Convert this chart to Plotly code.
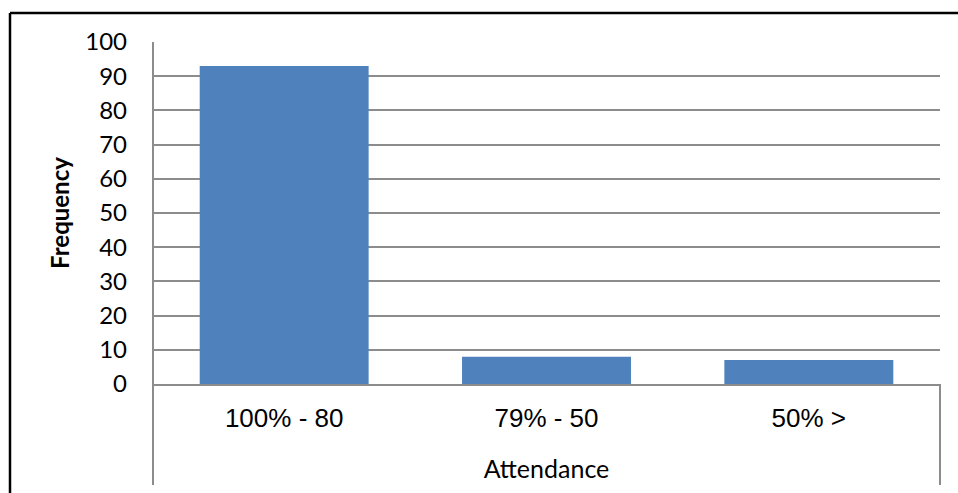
import plotly.graph_objects as go

# Attendance bands and how many fall in each
categories = ["100% - 80", "79% - 50", "50% >"]
frequency = [93, 8, 7]
y_ticks = [0, 10, 20, 30, 40, 50, 60, 70, 80, 90, 100]

W, H = 958, 493
L, R, T, B = 153, 18, 42, 109
plot_w = W - L - R
plot_h = H - T - B


def px_x(px):
    return (px - L) / plot_w


def px_y(py):
    return (H - B - py) / plot_h


GRID = "#8c8c8c"
BAR = "#4f81bd"

fig = go.Figure(
    go.Bar(
        x=categories,
        y=frequency,
        marker=dict(color=BAR, line=dict(width=0)),
        hoverinfo="x+y",
    )
)

shapes = [
    # category axis end dividers that run down past the labels
    dict(type="line", xref="paper", yref="paper", x0=0, x1=0, y0=1, y1=px_y(485),
         line=dict(color=GRID, width=2)),
    dict(type="line", xref="paper", yref="paper", x0=1, x1=1, y0=0, y1=px_y(485),
         line=dict(color=GRID, width=2)),
    # outer frame (top and left edges)
    dict(type="line", xref="paper", yref="paper", x0=px_x(10), x1=px_x(970),
         y0=px_y(13), y1=px_y(13), line=dict(color="black", width=2.5)),
    dict(type="line", xref="paper", yref="paper", x0=px_x(10), x1=px_x(10),
         y0=px_y(13), y1=px_y(500), line=dict(color="black", width=2.5)),
]

fig.update_layout(
    width=W,
    height=H,
    margin=dict(l=L, r=R, t=T, b=B, pad=0),
    paper_bgcolor="white",
    plot_bgcolor="white",
    bargap=0.356,
    showlegend=False,
    shapes=shapes,
    xaxis=dict(
        type="category",
        showgrid=False,
        showline=True,
        linecolor=GRID,
        linewidth=2,
        ticks="",
        tickfont=dict(family="Liberation Sans, Arial, sans-serif", size=26, color="black"),
        ticklabelstandoff=10,
        title=dict(text="Attendance",
                   font=dict(family="Lato, sans-serif", size=25, color="black"),
                   standoff=28),
    ),
    yaxis=dict(
        range=[0, 100],
        tickvals=y_ticks,
        showgrid=True,
        gridcolor=GRID,
        gridwidth=2,
        zeroline=False,
        showline=False,
        ticks="",
        tickfont=dict(family="Lato, sans-serif", size=24, color="black"),
        ticklabelstandoff=25,
        title=dict(text="<b>Frequency</b>",
                   font=dict(family="Lato, sans-serif", size=24, color="black"),
                   standoff=8),
    ),
)

fig.write_html("out.html")
